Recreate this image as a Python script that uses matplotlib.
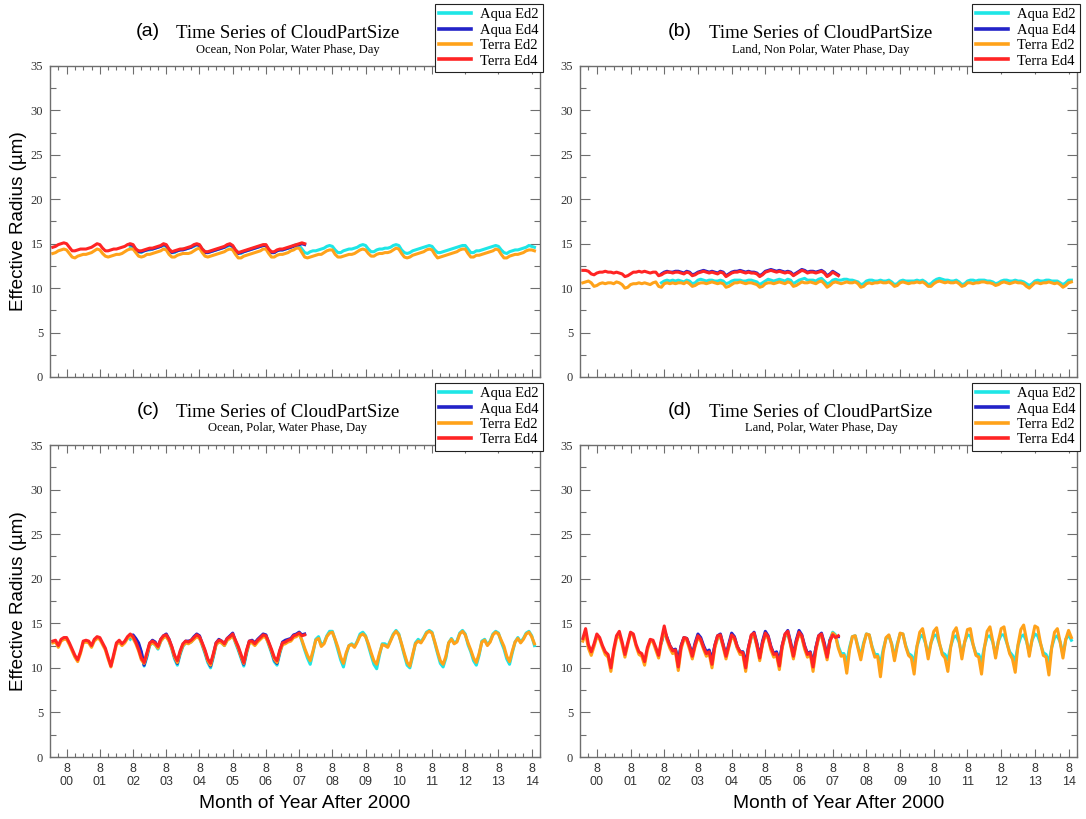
import numpy as np
import matplotlib.pyplot as plt
from matplotlib.ticker import MultipleLocator, FixedLocator

# ---------------- data (monthly effective radius, um) ----------------
# Terra series start Mar 2000, Aqua series start Jul 2002
# Ed2 runs to Sep 2014, Ed4 runs to Oct 2007

a_terra_ed2 = [
    13.9, 14.0, 14.2, 14.3, 14.4, 14.3, 13.9, 13.5, 13.4, 13.6,
    13.7, 13.8, 13.8, 13.9, 14.0, 14.2, 14.4, 14.3, 13.9, 13.6, 13.5, 13.6,
    13.7, 13.8, 13.8, 13.9, 14.1, 14.3, 14.4, 14.4, 14.0, 13.6, 13.5, 13.6,
    13.8, 13.8, 13.9, 14.0, 14.1, 14.2, 14.4, 14.3, 13.8, 13.5, 13.5, 13.7,
    13.8, 13.9, 13.9, 13.9, 14.0, 14.2, 14.4, 14.5, 14.0, 13.6, 13.5, 13.6,
    13.7, 13.8, 13.9, 14.0, 14.1, 14.3, 14.4, 14.3, 13.8, 13.4, 13.4, 13.6,
    13.7, 13.8, 13.9, 14.0, 14.1, 14.2, 14.4, 14.4, 13.9, 13.5, 13.5, 13.7,
    13.8, 13.8, 13.9, 14.0, 14.2, 14.3, 14.5, 14.5, 14.0, 13.5, 13.4, 13.5,
    13.6, 13.7, 13.8, 13.8, 14.0, 14.2, 14.3, 14.3, 13.8, 13.5, 13.5, 13.6,
    13.7, 13.8, 13.8, 13.9, 14.1, 14.3, 14.4, 14.3, 13.9, 13.6, 13.6, 13.8,
    13.9, 13.9, 14.0, 14.0, 14.1, 14.3, 14.5, 14.4, 13.9, 13.5, 13.4, 13.5,
    13.7, 13.8, 13.9, 14.0, 14.1, 14.3, 14.4, 14.3, 13.8, 13.4, 13.5, 13.6,
    13.7, 13.8, 13.9, 14.0, 14.1, 14.3, 14.4, 14.4, 13.9, 13.5, 13.5, 13.7,
    13.7, 13.8, 13.9, 14.0, 14.1, 14.2, 14.4, 14.3, 13.8, 13.4, 13.4, 13.6,
    13.7, 13.8, 13.8, 13.9, 14.0, 14.2, 14.3, 14.3, 14.2]
a_aqua_ed2 = [
    14.6, 14.7, 14.4, 14.1, 14.0, 14.2,
    14.3, 14.3, 14.4, 14.5, 14.6, 14.7, 14.8, 14.7, 14.3, 14.0, 14.0, 14.2,
    14.3, 14.4, 14.4, 14.5, 14.6, 14.7, 14.9, 14.8, 14.4, 14.1, 14.0, 14.1,
    14.2, 14.3, 14.4, 14.5, 14.6, 14.7, 14.8, 14.7, 14.3, 14.0, 13.9, 14.1,
    14.2, 14.3, 14.4, 14.5, 14.6, 14.7, 14.8, 14.8, 14.3, 14.0, 14.0, 14.2,
    14.3, 14.3, 14.4, 14.5, 14.6, 14.8, 14.9, 14.8, 14.4, 14.0, 13.9, 14.1,
    14.2, 14.2, 14.3, 14.4, 14.5, 14.7, 14.8, 14.7, 14.3, 14.0, 14.0, 14.2,
    14.3, 14.4, 14.4, 14.5, 14.6, 14.8, 14.9, 14.8, 14.4, 14.1, 14.1, 14.3,
    14.4, 14.4, 14.5, 14.5, 14.6, 14.8, 14.9, 14.8, 14.3, 14.0, 13.9, 14.0,
    14.2, 14.3, 14.4, 14.5, 14.6, 14.7, 14.8, 14.7, 14.3, 14.0, 14.0, 14.1,
    14.2, 14.3, 14.4, 14.5, 14.6, 14.7, 14.8, 14.8, 14.4, 14.0, 14.0, 14.2,
    14.2, 14.3, 14.4, 14.5, 14.6, 14.7, 14.8, 14.7, 14.3, 14.0, 13.9, 14.1,
    14.2, 14.3, 14.3, 14.4, 14.5, 14.6, 14.8, 14.7, 14.6]
a_terra_ed4 = [
    14.6, 14.7, 14.9, 15.0, 15.1, 15.0, 14.6, 14.2, 14.2, 14.3,
    14.4, 14.4, 14.4, 14.5, 14.6, 14.8, 15.0, 14.9, 14.5, 14.2, 14.2, 14.3,
    14.4, 14.4, 14.5, 14.6, 14.7, 14.9, 15.0, 14.9, 14.4, 14.2, 14.2, 14.3,
    14.4, 14.5, 14.5, 14.6, 14.7, 14.8, 15.0, 14.9, 14.4, 14.1, 14.2, 14.3,
    14.4, 14.4, 14.5, 14.6, 14.7, 14.9, 15.0, 14.9, 14.4, 14.1, 14.1, 14.2,
    14.3, 14.4, 14.5, 14.6, 14.7, 14.9, 15.0, 14.8, 14.3, 14.0, 14.1, 14.2,
    14.3, 14.4, 14.5, 14.6, 14.7, 14.8, 14.9, 14.9, 14.4, 14.1, 14.1, 14.3,
    14.4, 14.4, 14.5, 14.6, 14.7, 14.8, 14.9, 15.0, 15.1, 15.0]
a_aqua_ed4 = [
    14.9, 14.8, 14.3, 14.1, 14.1, 14.2,
    14.3, 14.4, 14.4, 14.5, 14.6, 14.7, 14.9, 14.8, 14.3, 14.0, 14.1, 14.2,
    14.3, 14.3, 14.4, 14.5, 14.6, 14.8, 14.9, 14.8, 14.3, 14.0, 14.0, 14.1,
    14.2, 14.3, 14.4, 14.5, 14.6, 14.8, 14.9, 14.7, 14.2, 13.9, 14.0, 14.1,
    14.2, 14.3, 14.4, 14.5, 14.6, 14.7, 14.8, 14.8, 14.3, 14.0, 14.0, 14.2,
    14.3, 14.3, 14.4, 14.5, 14.6, 14.7, 14.8, 14.9, 15.0, 14.9]

b_terra_ed2 = [
    10.6, 10.7, 10.8, 10.6, 10.2, 10.3, 10.5, 10.6, 10.5, 10.6,
    10.6, 10.5, 10.7, 10.6, 10.4, 10.0, 10.1, 10.4, 10.5, 10.5, 10.6, 10.5,
    10.6, 10.5, 10.4, 10.6, 10.7, 10.2, 10.1, 10.5, 10.6, 10.5, 10.6, 10.5,
    10.6, 10.6, 10.5, 10.7, 10.5, 10.2, 10.3, 10.5, 10.6, 10.6, 10.5, 10.6,
    10.7, 10.6, 10.5, 10.6, 10.5, 10.1, 10.2, 10.4, 10.6, 10.6, 10.7, 10.6,
    10.5, 10.6, 10.6, 10.5, 10.4, 10.1, 10.2, 10.5, 10.6, 10.6, 10.5, 10.6,
    10.7, 10.6, 10.5, 10.7, 10.6, 10.2, 10.3, 10.5, 10.7, 10.6, 10.6, 10.7,
    10.6, 10.5, 10.7, 10.8, 10.5, 10.1, 10.3, 10.6, 10.7, 10.6, 10.5, 10.6,
    10.7, 10.6, 10.6, 10.7, 10.5, 10.1, 10.2, 10.5, 10.6, 10.5, 10.6, 10.6,
    10.7, 10.6, 10.6, 10.7, 10.5, 10.2, 10.3, 10.6, 10.7, 10.6, 10.5, 10.6,
    10.6, 10.7, 10.6, 10.7, 10.5, 10.2, 10.2, 10.5, 10.7, 10.8, 10.7, 10.6,
    10.7, 10.6, 10.6, 10.7, 10.5, 10.2, 10.3, 10.6, 10.6, 10.5, 10.6, 10.6,
    10.7, 10.7, 10.6, 10.6, 10.5, 10.3, 10.4, 10.6, 10.7, 10.6, 10.5, 10.6,
    10.7, 10.6, 10.6, 10.5, 10.2, 10.0, 10.3, 10.6, 10.6, 10.5, 10.6, 10.6,
    10.7, 10.6, 10.5, 10.6, 10.4, 10.1, 10.3, 10.6, 10.7]
b_aqua_ed2 = [
    10.6, 10.8, 10.9, 10.8, 10.9, 10.8,
    10.9, 10.8, 10.7, 10.9, 10.8, 10.5, 10.6, 10.9, 11.0, 10.9, 10.8, 10.9,
    10.9, 10.8, 10.8, 10.9, 10.8, 10.5, 10.6, 10.8, 10.9, 10.9, 10.9, 10.8,
    10.8, 10.9, 10.9, 10.8, 10.7, 10.4, 10.6, 10.8, 11.0, 10.9, 10.8, 10.9,
    11.0, 10.9, 10.8, 11.0, 10.9, 10.5, 10.7, 10.9, 11.0, 11.1, 10.9, 10.9,
    10.9, 10.8, 11.0, 11.1, 10.8, 10.5, 10.6, 10.9, 11.0, 10.9, 10.9, 11.0,
    11.0, 10.9, 10.9, 10.8, 10.7, 10.4, 10.5, 10.8, 10.9, 10.9, 10.8, 10.8,
    10.9, 10.8, 10.8, 10.9, 10.7, 10.4, 10.5, 10.8, 10.9, 10.8, 10.8, 10.8,
    10.8, 10.9, 10.8, 10.9, 10.7, 10.4, 10.5, 10.8, 11.0, 11.1, 11.0, 10.9,
    10.9, 10.8, 10.8, 10.9, 10.7, 10.4, 10.5, 10.8, 10.9, 10.9, 10.8, 10.9,
    10.9, 10.9, 10.8, 10.8, 10.7, 10.5, 10.6, 10.8, 10.9, 10.9, 10.8, 10.8,
    10.9, 10.8, 10.8, 10.7, 10.5, 10.3, 10.5, 10.8, 10.9, 10.8, 10.8, 10.9,
    10.9, 10.8, 10.8, 10.8, 10.6, 10.4, 10.6, 10.9, 10.9]
b_terra_ed4 = [
    12.0, 12.0, 11.9, 11.6, 11.5, 11.7, 11.8, 11.8, 11.9, 11.8,
    11.8, 11.7, 11.8, 11.7, 11.6, 11.3, 11.4, 11.6, 11.8, 11.8, 11.9, 11.8,
    11.9, 11.8, 11.7, 11.8, 11.8, 11.4, 11.5, 11.7, 11.8, 11.8, 11.7, 11.8,
    11.8, 11.7, 11.6, 11.8, 11.7, 11.4, 11.5, 11.7, 11.8, 11.9, 11.8, 11.7,
    11.8, 11.7, 11.6, 11.8, 11.7, 11.3, 11.5, 11.7, 11.8, 11.8, 11.9, 11.8,
    11.7, 11.8, 11.7, 11.7, 11.6, 11.3, 11.5, 11.8, 11.9, 12.0, 11.9, 11.8,
    11.9, 11.8, 11.7, 11.8, 11.7, 11.4, 11.6, 11.8, 12.0, 11.9, 11.7, 11.8,
    11.8, 11.7, 11.8, 11.9, 11.7, 11.3, 11.5, 11.8, 11.6, 11.4]
b_aqua_ed4 = [
    11.6, 11.8, 11.9, 11.8, 11.8, 11.9,
    11.9, 11.8, 11.7, 11.9, 11.8, 11.5, 11.6, 11.8, 11.9, 12.0, 11.9, 11.8,
    11.9, 11.8, 11.7, 11.9, 11.8, 11.4, 11.6, 11.8, 11.9, 11.9, 12.0, 11.9,
    11.8, 11.9, 11.8, 11.8, 11.7, 11.4, 11.6, 11.9, 12.0, 12.1, 12.0, 11.9,
    12.0, 11.9, 11.8, 11.9, 11.8, 11.5, 11.7, 11.9, 12.1, 12.0, 11.8, 11.9,
    11.9, 11.8, 11.9, 12.0, 11.8, 11.4, 11.6, 11.9, 11.7, 11.5]

c_terra_ed2 = [
    12.8, 12.9, 12.3, 13.0, 13.2, 13.2, 12.6, 11.9, 11.2, 10.7,
    11.6, 12.8, 12.9, 12.8, 12.3, 13.0, 13.3, 13.2, 12.6, 12.0, 11.0, 10.1,
    11.3, 12.6, 12.9, 12.5, 12.8, 13.3, 13.6, 13.3, 12.7, 11.9, 10.9, 10.5,
    11.5, 12.6, 12.8, 12.6, 12.2, 13.0, 13.4, 13.5, 13.0, 12.2, 11.2, 10.6,
    11.7, 12.5, 12.8, 12.7, 12.9, 13.2, 13.5, 13.3, 12.6, 11.8, 10.8, 10.3,
    11.4, 12.6, 12.9, 12.8, 12.5, 13.1, 13.3, 13.6, 12.9, 12.2, 11.3, 10.5,
    11.8, 12.8, 12.8, 12.5, 12.9, 13.2, 13.5, 13.4, 12.7, 11.9, 11.0, 10.6,
    11.8, 12.6, 12.7, 12.9, 13.0, 13.4, 13.5, 13.8, 13.1, 12.2, 11.4, 10.8,
    11.9, 13.1, 13.3, 12.4, 12.7, 13.5, 13.9, 14.0, 13.2, 12.3, 11.2, 10.5,
    11.7, 12.5, 12.6, 12.3, 12.9, 13.6, 13.8, 13.5, 12.7, 11.7, 10.8, 10.4,
    11.6, 12.6, 12.5, 12.3, 13.0, 13.7, 14.1, 13.7, 12.7, 11.6, 10.6, 10.2,
    11.5, 12.7, 13.0, 12.8, 13.3, 13.9, 14.1, 13.9, 12.9, 11.8, 10.8, 10.4,
    11.3, 12.8, 13.2, 12.7, 12.9, 13.8, 14.1, 13.7, 12.8, 12.0, 11.1, 10.6,
    11.6, 12.9, 13.1, 12.5, 12.9, 13.7, 14.0, 13.8, 13.1, 12.4, 11.3, 10.7,
    11.9, 12.9, 13.3, 12.8, 13.2, 13.8, 14.0, 13.5, 12.7]
c_aqua_ed2 = [
    13.2, 13.5, 13.2, 12.6, 11.7, 10.2,
    11.2, 12.5, 12.8, 12.6, 12.1, 13.0, 13.4, 13.6, 13.0, 12.1, 11.0, 10.3,
    11.5, 12.4, 12.8, 12.8, 12.9, 13.3, 13.6, 13.4, 12.5, 11.6, 10.6, 10.0,
    11.2, 12.6, 13.0, 12.8, 12.5, 13.1, 13.4, 13.7, 12.8, 12.0, 11.1, 10.2,
    11.6, 12.8, 12.9, 12.6, 13.0, 13.3, 13.6, 13.5, 12.6, 11.7, 10.7, 10.3,
    11.6, 12.7, 12.9, 13.0, 13.1, 13.5, 13.7, 14.0, 13.0, 12.0, 11.1, 10.4,
    11.7, 13.2, 13.5, 12.6, 12.8, 13.6, 14.1, 14.1, 13.1, 12.0, 10.9, 10.1,
    11.5, 12.5, 12.7, 12.4, 13.0, 13.8, 14.0, 13.6, 12.5, 11.4, 10.4, 9.9,
    11.4, 12.7, 12.7, 12.4, 13.1, 13.8, 14.2, 13.8, 12.6, 11.4, 10.3, 10.0,
    11.3, 12.8, 13.2, 12.9, 13.4, 14.0, 14.2, 14.0, 12.8, 11.6, 10.5, 10.1,
    11.1, 12.8, 13.3, 12.8, 13.0, 13.9, 14.2, 13.8, 12.6, 11.8, 10.8, 10.3,
    11.4, 13.0, 13.2, 12.6, 13.0, 13.8, 14.1, 13.9, 12.9, 12.1, 11.0, 10.4,
    11.7, 12.9, 13.4, 12.9, 13.3, 13.9, 14.1, 13.6, 12.5]
c_terra_ed4 = [
    13.0, 13.1, 12.5, 13.2, 13.4, 13.4, 12.8, 12.1, 11.4, 10.9,
    11.8, 13.0, 13.1, 13.0, 12.5, 13.2, 13.5, 13.4, 12.8, 12.2, 11.2, 10.2,
    11.5, 12.8, 13.1, 12.7, 13.0, 13.5, 13.8, 13.5, 12.9, 12.1, 11.1, 10.6,
    11.7, 12.8, 13.0, 12.8, 12.4, 13.2, 13.6, 13.7, 13.2, 12.4, 11.4, 10.8,
    11.9, 12.7, 13.0, 12.9, 13.1, 13.4, 13.7, 13.5, 12.8, 12.0, 11.0, 10.5,
    11.6, 12.8, 13.1, 13.0, 12.7, 13.3, 13.5, 13.8, 13.1, 12.4, 11.5, 10.6,
    12.0, 13.0, 13.0, 12.7, 13.1, 13.4, 13.7, 13.6, 12.9, 12.1, 11.2, 10.8,
    12.0, 12.8, 12.9, 13.1, 13.2, 13.6, 13.7, 13.9, 13.6, 13.7]
c_aqua_ed4 = [
    13.5, 13.7, 13.3, 12.8, 11.8, 10.3,
    11.4, 12.7, 13.1, 12.9, 12.3, 13.2, 13.6, 13.8, 13.2, 12.3, 11.2, 10.5,
    11.7, 12.6, 13.0, 13.0, 13.1, 13.5, 13.8, 13.6, 12.7, 11.8, 10.8, 10.2,
    11.4, 12.8, 13.2, 13.0, 12.7, 13.3, 13.6, 13.9, 13.0, 12.2, 11.3, 10.4,
    11.8, 13.0, 13.1, 12.8, 13.2, 13.5, 13.8, 13.7, 12.8, 11.9, 10.9, 10.5,
    11.8, 12.9, 13.1, 13.2, 13.3, 13.7, 13.8, 14.0, 13.7, 13.8]

d_terra_ed2 = [
    13.0, 13.8, 12.2, 11.4, 12.4, 13.5, 13.2, 12.3, 11.5, 11.2,
    9.6, 11.8, 13.3, 13.7, 12.6, 11.2, 12.6, 13.9, 13.6, 12.4, 11.5, 11.3,
    10.3, 12.0, 13.0, 12.9, 12.0, 11.1, 12.9, 14.3, 13.1, 12.2, 11.6, 11.8,
    9.7, 12.1, 13.2, 13.1, 12.1, 11.0, 12.4, 13.4, 13.0, 12.1, 11.3, 11.6,
    10.0, 12.2, 13.4, 13.5, 12.3, 11.0, 12.3, 13.5, 13.2, 12.2, 11.5, 11.5,
    9.6, 12.0, 13.5, 13.7, 12.4, 10.8, 12.6, 13.7, 13.3, 12.0, 11.2, 11.4,
    9.8, 12.2, 13.6, 14.0, 12.5, 11.0, 12.7, 13.8, 13.4, 12.1, 11.2, 11.5,
    9.6, 11.9, 13.4, 13.6, 12.3, 10.9, 12.9, 13.9, 13.6, 12.2, 11.3, 11.4,
    9.4, 12.0, 13.5, 13.6, 12.2, 10.9, 12.6, 13.8, 13.7, 12.3, 11.2, 11.3,
    9.0, 11.8, 13.4, 13.7, 12.6, 10.8, 12.5, 13.9, 13.8, 12.4, 11.4, 11.1,
    9.3, 12.4, 14.0, 14.4, 12.9, 11.0, 12.8, 14.1, 14.5, 12.8, 11.5, 11.1,
    9.6, 12.3, 14.0, 14.5, 13.1, 11.0, 12.9, 14.3, 14.4, 12.6, 11.4, 11.2,
    9.3, 12.2, 14.1, 14.6, 13.0, 11.1, 13.0, 14.4, 14.6, 12.9, 11.6, 11.0,
    9.5, 12.6, 14.3, 14.8, 13.2, 11.3, 13.2, 14.7, 14.5, 12.8, 11.4, 11.2,
    9.2, 12.3, 14.0, 14.4, 12.9, 11.1, 13.2, 14.2, 13.4]
d_aqua_ed2 = [
    12.8, 14.0, 13.3, 12.4, 11.9, 12.0,
    10.9, 12.4, 13.3, 13.3, 12.4, 11.5, 12.6, 13.5, 13.2, 12.3, 11.7, 11.9,
    11.1, 12.4, 13.3, 13.5, 12.5, 11.4, 12.5, 13.6, 13.3, 12.3, 11.7, 11.8,
    10.7, 12.2, 13.4, 13.7, 12.6, 11.2, 12.8, 13.8, 13.4, 12.2, 11.5, 11.7,
    10.9, 12.4, 13.5, 13.9, 12.7, 11.4, 12.9, 13.9, 13.5, 12.3, 11.5, 11.7,
    10.8, 12.2, 13.4, 13.6, 12.5, 11.3, 13.1, 14.0, 13.7, 12.4, 11.6, 11.6,
    10.6, 12.3, 13.5, 13.6, 12.4, 11.3, 12.8, 13.8, 13.7, 12.4, 11.5, 11.5,
    10.4, 12.1, 13.3, 13.6, 12.7, 11.2, 12.7, 13.8, 13.8, 12.5, 11.6, 11.4,
    10.7, 12.4, 13.4, 13.7, 12.8, 11.5, 12.8, 13.6, 13.7, 12.7, 11.7, 11.5,
    10.9, 12.4, 13.4, 13.6, 12.9, 11.5, 12.9, 13.7, 13.6, 12.6, 11.6, 11.5,
    10.7, 12.3, 13.5, 13.6, 12.9, 11.5, 13.0, 13.7, 13.7, 12.8, 11.8, 11.4,
    10.8, 12.5, 13.5, 13.7, 13.0, 11.7, 13.1, 13.8, 13.6, 12.7, 11.7, 11.5,
    10.6, 12.3, 13.4, 13.6, 12.9, 11.5, 13.2, 13.7, 13.1]
d_terra_ed4 = [
    13.3, 14.4, 12.6, 11.8, 12.7, 13.8, 13.4, 12.5, 11.8, 11.5,
    10.0, 12.1, 13.6, 14.1, 12.9, 11.5, 12.8, 14.0, 13.8, 12.6, 11.8, 11.6,
    10.7, 12.3, 13.2, 13.1, 12.3, 11.4, 13.2, 14.7, 13.3, 12.5, 11.9, 12.0,
    10.1, 12.4, 13.4, 13.3, 12.4, 11.3, 12.6, 13.6, 13.2, 12.3, 11.6, 11.8,
    10.4, 12.5, 13.6, 13.7, 12.5, 11.3, 12.5, 13.7, 13.4, 12.4, 11.8, 11.7,
    10.0, 12.3, 13.7, 13.9, 12.6, 11.1, 12.8, 13.9, 13.5, 12.3, 11.5, 11.6,
    10.2, 12.5, 13.8, 14.1, 12.7, 11.3, 12.9, 14.0, 13.6, 12.4, 11.5, 11.7,
    10.1, 12.2, 13.6, 13.8, 12.6, 11.2, 13.0, 13.7, 13.4, 13.6]
d_aqua_ed4 = [
    12.9, 14.2, 13.4, 12.5, 12.0, 12.1,
    10.8, 12.5, 13.4, 13.3, 12.5, 11.5, 12.8, 13.8, 13.4, 12.5, 11.8, 12.0,
    10.9, 12.5, 13.6, 13.8, 12.6, 11.4, 12.7, 13.9, 13.5, 12.4, 11.8, 11.8,
    10.5, 12.3, 13.6, 14.0, 12.8, 11.2, 13.0, 14.1, 13.6, 12.4, 11.6, 11.8,
    10.7, 12.5, 13.7, 14.2, 12.9, 11.4, 13.1, 14.2, 13.7, 12.5, 11.6, 11.8,
    10.4, 12.3, 13.6, 13.9, 12.8, 11.3, 13.1, 13.8, 13.5, 13.5]

series_names = ['Aqua Ed2', 'Aqua Ed4', 'Terra Ed2', 'Terra Ed4']
series_colors = ['#1ee6e6', '#2323c8', '#ffa21a', '#ff2424']
series_start = [(2002, 7), (2002, 7), (2000, 3), (2000, 3)]

panels = [
    ('(a)', 'Ocean, Non Polar, Water Phase, Day', [a_aqua_ed2, a_aqua_ed4, a_terra_ed2, a_terra_ed4]),
    ('(b)', 'Land, Non Polar, Water Phase, Day', [b_aqua_ed2, b_aqua_ed4, b_terra_ed2, b_terra_ed4]),
    ('(c)', 'Ocean, Polar, Water Phase, Day', [c_aqua_ed2, c_aqua_ed4, c_terra_ed2, c_terra_ed4]),
    ('(d)', 'Land, Polar, Water Phase, Day', [d_aqua_ed2, d_aqua_ed4, d_terra_ed2, d_terra_ed4]),
]

years = list(range(2000, 2015))
xtick_labels = ['8\n%02d' % (y % 100) for y in years]


def months(start, n):
    y0, m0 = start
    return y0 + (m0 - 1 + np.arange(n)) / 12.0


fig = plt.figure(figsize=(10.86, 8.19), dpi=100)
W, H = 1086.0, 819.0
boxes = [(50, 66, 540, 377), (580, 66, 1077, 377),
         (50, 445, 540, 757), (580, 445, 1077, 757)]

serif = 'Liberation Serif'
sans = 'Liberation Sans'
spine_col = '#6e6e6e'

for i, (tag, sub, data) in enumerate(panels):
    l, t, r, b = boxes[i]
    ax = fig.add_axes([l / W, 1 - b / H, (r - l) / W, (b - t) / H])
    for vals, name, col, st in zip(data, series_names, series_colors, series_start):
        ax.plot(months(st, len(vals)), vals, color=col, lw=2.2, label=name,
                solid_joinstyle='round')

    ax.set_xlim(2000 + 1 / 12, 2014 + 10 / 12)
    ax.set_ylim(0, 35)

    ax.yaxis.set_major_locator(MultipleLocator(5))
    ax.yaxis.set_minor_locator(MultipleLocator(2.5))
    aug = [y + 7 / 12 for y in years]
    ax.set_xticks(aug)
    if i >= 2:
        ax.set_xticklabels(xtick_labels)
    else:
        ax.set_xticklabels([])
    feb = [y + 1 / 12 for y in years]
    quarter = [y + k / 12 for y in years for k in (4, 10)]
    ax.xaxis.set_minor_locator(FixedLocator(feb + quarter))

    ax.tick_params(which='both', direction='in', top=True, right=True, color=spine_col, width=0.8)
    ax.tick_params(axis='y', which='major', length=7, labelsize=9, labelcolor='#333333', pad=5)
    ax.tick_params(axis='y', which='minor', length=4)
    ax.tick_params(axis='x', which='major', length=6, labelsize=9, labelcolor='#333333', pad=4)
    ax.tick_params(axis='x', which='minor', length=3)
    for lab in ax.get_yticklabels():
        lab.set_fontfamily(serif)
    for lab in ax.get_xticklabels():
        lab.set_fontfamily(sans)
        lab.set_linespacing(1.2)
    for sp in ax.spines.values():
        sp.set_color(spine_col)
        sp.set_linewidth(1.0)

    ax.text(0.2, 1.112, tag, transform=ax.transAxes, ha='center', va='center',
            fontsize=14, family=sans)
    ax.text(0.485, 1.105, 'Time Series of CloudPartSize', transform=ax.transAxes,
            ha='center', va='center', fontsize=13.5, family=serif)
    ax.text(0.485, 1.053, sub, transform=ax.transAxes, ha='center', va='center',
            fontsize=9, family=serif)

    leg = ax.legend(loc='upper right', bbox_to_anchor=(1.006, 1.2), borderaxespad=0,
                    fancybox=False, framealpha=1, edgecolor='#222222',
                    prop={'family': serif, 'size': 10.5}, handlelength=2.2,
                    handletextpad=0.6, labelspacing=0.15, borderpad=0.3)
    leg.get_frame().set_linewidth(0.8)
    for ln in leg.get_lines():
        ln.set_linewidth(2.6)

    if i % 2 == 0:
        ax.set_ylabel('Effective Radius (\u00b5m)', fontsize=13.6, family=sans)
        ax.yaxis.set_label_coords(-0.047, 0.5)
    if i >= 2:
        ax.set_xlabel('Month of Year After 2000', fontsize=13.8, family=sans)
        ax.xaxis.set_label_coords(0.52, -0.122)

fig.savefig('out.png', dpi=100)
